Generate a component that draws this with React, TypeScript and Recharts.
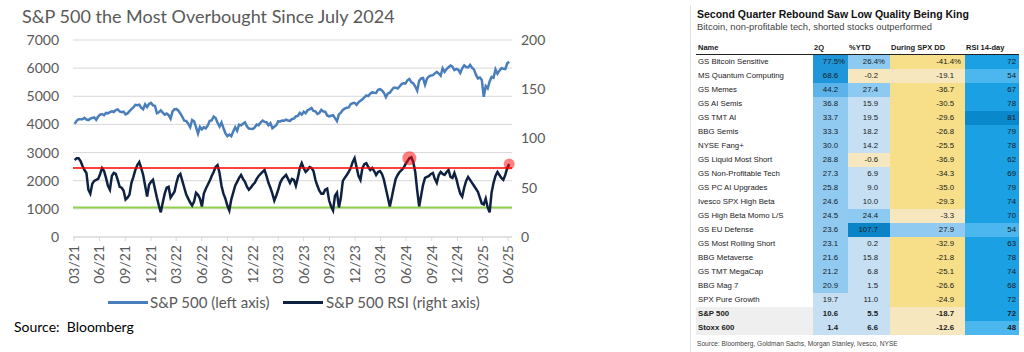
import {
  CartesianGrid,
  Line,
  LineChart,
  ReferenceDot,
  ReferenceLine,
  XAxis,
  YAxis,
} from "recharts";

// weekly closes, first week ending 2021-04-02
const spx2021 = [
  4020, 4129, 4185, 4180, 4181, 4233, 4174, 4156, 4204, 4230, 4247, 4166, 4281,
  4352, 4370, 4327, 4412, 4395, 4437, 4468, 4442, 4509, 4535, 4459, 4433, 4455,
  4357, 4391, 4471, 4545, 4605, 4697, 4682, 4698, 4595, 4538, 4712, 4620, 4726,
  4766,
];
const spx2022 = [
  4677, 4663, 4398, 4432, 4501, 4419, 4349, 4385, 4329, 4204, 4463, 4543, 4546,
  4488, 4392, 4272, 4132, 4123, 4024, 3901, 4158, 4109, 3901, 3675, 3912, 3825,
  3899, 3863, 3962, 4130, 4145, 4280, 4228, 4058, 3924, 4067, 3873, 3693, 3586,
  3639, 3583, 3752, 3901, 3771, 3993, 3965, 4026, 4072, 3934, 3852, 3845, 3840,
];
const spx2023 = [
  3895, 3999, 3973, 4070, 4136, 4090, 4079, 3970, 4045, 3862, 3917, 3971, 4109,
  4105, 4138, 4133, 4169, 4136, 4124, 4192, 4205, 4282, 4299, 4410, 4348, 4450,
  4399, 4505, 4536, 4582, 4478, 4464, 4370, 4406, 4516, 4457, 4450, 4320, 4288,
  4308, 4327, 4224, 4117, 4358, 4415, 4514, 4559, 4595, 4604, 4719, 4755, 4770,
];
const spx2024 = [
  4697, 4784, 4840, 4891, 4959, 5027, 5006, 5089, 5137, 5124, 5117, 5234, 5254,
  5204, 5123, 4967, 5100, 5128, 5223, 5303, 5305, 5278, 5347, 5432, 5465, 5460,
  5567, 5615, 5505, 5459, 5346, 5200, 5554, 5634, 5648, 5408, 5626, 5703, 5738,
  5751, 5815, 5865, 5808, 5729, 5995, 5870, 5969, 6032, 6090, 6051, 5931, 5971,
];
const spx2025 = [
  5942, 5827, 5997, 6101, 6041, 6026, 6115, 6013, 5955, 5770, 5639, 5668, 5581,
  4982, 5363, 5283, 5525, 5687, 5660, 5958, 5803, 5912, 6000, 5977, 5968, 6173,
  6229,
];
const spx = [...spx2021, ...spx2022, ...spx2023, ...spx2024, ...spx2025];

// RSI 14-day, same weeks
const rsi = [
  78, 80, 80, 77, 72, 68, 65, 48, 44, 54,
  57, 58, 59, 64, 70, 67, 60, 52, 48, 62,
  65, 64, 58, 51, 50, 47, 38, 40, 43, 55,
  61, 68, 73, 76, 70, 63, 52, 41, 53, 56,
  58, 49, 40, 32, 25, 35, 44, 50, 51, 40,
  43, 46, 55, 62, 64, 57, 50, 43, 39, 35,
  32, 36, 45, 43, 39, 31, 44, 49, 53, 57,
  62, 66, 71, 73, 65, 52, 44, 39, 32, 27,
  38, 45, 52, 56, 60, 63, 59, 56, 51, 48,
  50, 53, 55, 59, 62, 64, 66, 68, 62, 55,
  50, 44, 37, 42, 48, 55, 59, 61, 63, 59,
  55, 59, 58, 52, 60, 70, 75, 70, 66, 68,
  71, 70, 67, 58, 52, 47, 44, 44, 48, 49,
  37, 31, 27, 42, 45, 30, 40, 57, 60, 63,
  66, 70, 76, 80, 71, 62, 58, 70, 74, 75,
  71, 68, 70, 67, 63, 66, 67, 64, 58, 49,
  40, 31, 40, 50, 59, 63, 66, 68, 70, 74,
  77, 80, 81, 76, 66, 47, 31, 42, 53, 60,
  61, 62, 64, 65, 59, 55, 63, 66, 64, 63,
  66, 68, 61, 60, 65, 59, 51, 44, 41, 50,
  57, 61, 58, 55, 52, 49, 46, 40, 34, 33,
  39, 30, 25, 45, 55, 62, 66, 63, 60, 58,
  63, 70, 74,
];

const tickLabels = [
  "03/21", "06/21", "09/21", "12/21", "03/22", "06/22", "09/22", "12/22",
  "03/23", "06/23", "09/23", "12/23", "03/24", "06/24", "09/24", "12/24",
  "03/25", "06/25",
];
const overboughtWeeks = ["2024-07-12", "2025-07-04"];

// table
const names = [
  "GS Bitcoin Sensitive", "MS Quantum Computing", "GS Memes", "GS AI Semis",
  "GS TMT AI", "BBG Semis", "NYSE Fang+", "GS Liquid Most Short",
  "GS Non-Profitable Tech", "GS PC AI Upgrades", "Ivesco SPX High Beta",
  "GS High Beta Momo L/S", "GS EU Defense", "GS Most Rolling Short",
  "BBG Metaverse", "GS TMT MegaCap", "BBG Mag 7", "SPX Pure Growth",
  "S&P 500", "Stoxx 600",
];
const q2 = [77.5, 68.6, 44.2, 36.8, 33.7, 33.3, 30.0, 28.8, 27.3, 25.8, 24.6, 24.5, 23.6, 23.1, 21.6, 21.2, 20.9, 19.7, 10.6, 1.4];
const ytd = [26.4, -0.2, 27.4, 15.9, 19.5, 18.2, 14.2, -0.6, 6.9, 9.0, 10.0, 24.4, 107.7, 0.2, 15.8, 6.8, 1.5, 11.0, 5.5, 6.6];
const spxDD = [-41.4, -19.1, -36.7, -30.5, -29.6, -26.8, -25.5, -36.9, -34.3, -35.0, -29.3, -3.3, 27.9, -32.9, -21.8, -25.1, -26.6, -24.9, -18.7, -12.6];
const rsi14 = [72, 54, 67, 78, 81, 79, 78, 62, 69, 79, 74, 70, 54, 63, 78, 74, 68, 72, 72, 48];
const benchmarks = ["S&P 500", "Stoxx 600"];

const DAY = 86400000;
const start = Date.UTC(2021, 3, 2);
const data = spx.map((v, i) => ({ t: start + i * 7 * DAY, spx: v, rsi: rsi[i] }));
const tickTimes = tickLabels.map((l) => Date.UTC(2000 + Number(l.slice(3)), Number(l.slice(0, 2)), 0));

const gray = "#595959";
const lato = "Lato, sans-serif";
const arial = "'Liberation Sans', Arial, sans-serif";

function DateTick(props: any) {
  const { x, y, payload } = props;
  const idx = tickTimes.indexOf(payload.value);
  return (
    <text
      x={x}
      y={y}
      transform={`rotate(-90 ${x} ${y})`}
      textAnchor="end"
      dy="0.35em"
      fill={gray}
      fontSize={14}
      fontFamily={lato}
    >
      {tickLabels[idx]}
    </text>
  );
}

function LeftChart() {
  const dots = overboughtWeeks.map((d) => {
    const ts = Date.parse(d);
    let best = 0;
    data.forEach((p, i) => {
      if (Math.abs(p.t - ts) < Math.abs(data[best].t - ts)) best = i;
    });
    return data[best];
  });
  return (
    <div style={{ position: "absolute", left: 0, top: 0 }}>
      <LineChart
        width={600}
        height={290}
        data={data}
        margin={{ top: 40, right: 38, left: 13, bottom: 3 }}
      >
        <CartesianGrid yAxisId="left" vertical={false} stroke="#d9d9d9" />
        <XAxis
          dataKey="t"
          type="number"
          scale="time"
          domain={[Date.UTC(2021, 2, 27), Date.UTC(2025, 6, 14)]}
          ticks={tickTimes}
          interval={0}
          height={50}
          tickSize={4}
          tickMargin={4}
          stroke="#d9d9d9"
          tick={<DateTick />}
        />
        <YAxis
          yAxisId="left"
          domain={[0, 7000]}
          ticks={[0, 1000, 2000, 3000, 4000, 5000, 6000, 7000]}
          width={60}
          axisLine={false}
          tickLine={false}
          tickMargin={8}
          tick={{ fill: gray, fontSize: 14, fontFamily: lato }}
        />
        <YAxis
          yAxisId="right"
          orientation="right"
          domain={[0, 200]}
          ticks={[0, 50, 100, 150, 200]}
          width={50}
          axisLine={false}
          tickLine={false}
          tickMargin={3}
          tick={{ fill: gray, fontSize: 14, fontFamily: lato, textAnchor: "start" }}
        />
        <ReferenceLine yAxisId="right" y={30} stroke="#92d050" strokeWidth={2} />
        <Line
          yAxisId="left"
          dataKey="spx"
          stroke="#4a7ebb"
          strokeWidth={2.5}
          dot={false}
          isAnimationActive={false}
        />
        <Line
          yAxisId="right"
          dataKey="rsi"
          stroke="#0e2141"
          strokeWidth={2.5}
          dot={false}
          isAnimationActive={false}
        />
        <ReferenceLine yAxisId="right" y={70} stroke="#ff0000" strokeWidth={1.5} />
        {dots.map((p, i) => (
          <ReferenceDot
            key={i}
            yAxisId="right"
            x={p.t}
            y={p.rsi}
            r={i === 0 ? 7 : 5.5}
            fill="#ff0000"
            fillOpacity={0.5}
            stroke="none"
          />
        ))}
      </LineChart>
    </div>
  );
}

function q2Color(v: number) {
  if (v >= 60) return "#1e96d9";
  if (v >= 40) return "#5bb3ea";
  if (v >= 20) return "#90caf1";
  return "#c6dff3";
}
function ytdColor(v: number) {
  if (v >= 100) return "#0a84c6";
  if (v >= 20) return "#8ccaf1";
  if (v >= 0) return "#c6dff3";
  return "#f6e7be";
}
function ddColor(v: number) {
  if (v > 0) return "#90caf1";
  if (v > -20) return "#f6e7be";
  return "#f6df88";
}
function rsiColor(v: number) {
  if (v >= 80) return "#0a88cc";
  if (v >= 60) return "#1ba0e3";
  return "#4cb6ee";
}

const cols = [696, 813, 848, 890, 965, 1019];
const ROW0 = 55;
const ROWH = 14;

function Cell(props: {
  left: number;
  right: number;
  top: number;
  bg: string;
  pad: number;
  text: string;
  pct: boolean;
  bold: boolean;
}) {
  return (
    <div
      style={{
        position: "absolute",
        left: props.left,
        top: props.top,
        width: props.right - props.left,
        height: ROWH,
        background: props.bg,
        boxSizing: "border-box",
        paddingRight: props.pad,
        textAlign: "right",
        lineHeight: ROWH + "px",
        fontWeight: props.bold ? 700 : 400,
      }}
    >
      <span style={{ position: "relative" }}>
        {props.text}
        {props.pct && <span style={{ position: "absolute", left: "100%" }}>%</span>}
      </span>
    </div>
  );
}

function Table() {
  const headers = ["Name", "2Q", "%YTD", "During SPX DD", "RSI 14-day"];
  return (
    <div style={{ position: "absolute", left: 0, top: 0, fontFamily: arial, color: "#1a1a1a" }}>
      <div style={{ position: "absolute", left: 690, top: 5, width: 1, height: 347, background: "#e3e3e3" }} />
      <div
        style={{
          position: "absolute",
          left: 697,
          top: 8,
          fontSize: 10.5,
          lineHeight: "13px",
          fontWeight: 700,
          whiteSpace: "nowrap",
          color: "#111",
        }}
      >
        Second Quarter Rebound Saw Low Quality Being King
      </div>
      <div
        style={{
          position: "absolute",
          left: 697,
          top: 21,
          fontSize: 9.4,
          lineHeight: "12px",
          whiteSpace: "nowrap",
          color: "#444",
        }}
      >
        Bitcoin, non-profitable tech, shorted stocks outperformed
      </div>
      {headers.map((h, i) => (
        <div
          key={h}
          style={{
            position: "absolute",
            left: cols[i] + (i === 0 ? 2 : 1),
            top: 41.5,
            fontSize: 7.5,
            lineHeight: "12px",
            fontWeight: 700,
            whiteSpace: "nowrap",
          }}
        >
          {h}
        </div>
      ))}
      <div style={{ position: "absolute", left: 696, top: 53.5, width: 323, height: 1.5, background: "#222" }} />
      <div style={{ position: "absolute", left: 0, top: 0, fontSize: 7.8, whiteSpace: "nowrap" }}>
        {names.map((n, k) => {
          const top = ROW0 + k * ROWH;
          const bold = benchmarks.includes(n);
          const pct = k === 0;
          return (
            <div key={n}>
              <div
                style={{
                  position: "absolute",
                  left: cols[0],
                  top,
                  width: cols[1] - cols[0],
                  height: ROWH,
                  lineHeight: ROWH + "px",
                  paddingLeft: 2,
                  boxSizing: "border-box",
                  background: bold ? "#efefef" : "#fff",
                  fontWeight: bold ? 700 : 400,
                }}
              >
                {n}
              </div>
              <Cell left={cols[1]} right={cols[2]} top={top} bg={q2Color(q2[k])} pad={10} text={q2[k].toFixed(1)} pct={pct} bold={bold} />
              <Cell left={cols[2]} right={cols[3]} top={top} bg={ytdColor(ytd[k])} pad={12} text={ytd[k].toFixed(1)} pct={pct} bold={bold} />
              <Cell left={cols[3]} right={cols[4]} top={top} bg={ddColor(spxDD[k])} pad={11} text={spxDD[k].toFixed(1)} pct={pct} bold={bold} />
              <Cell left={cols[4]} right={cols[5]} top={top} bg={rsiColor(rsi14[k])} pad={3} text={String(rsi14[k])} pct={false} bold={bold} />
            </div>
          );
        })}
      </div>
      <div
        style={{
          position: "absolute",
          left: 697,
          top: 339,
          fontSize: 6.6,
          lineHeight: "10px",
          whiteSpace: "nowrap",
          color: "#444",
        }}
      >
        Source: Bloomberg, Goldman Sachs, Morgan Stanley, Ivesco, NYSE
      </div>
    </div>
  );
}

export default function App() {
  return (
    <div
      style={{
        position: "absolute",
        left: 0,
        top: 0,
        width: 1024,
        height: 352,
        background: "#fff",
        overflow: "hidden",
      }}
    >
      <div
        style={{
          position: "absolute",
          left: 22,
          top: 5,
          fontFamily: lato,
          fontSize: 18,
          lineHeight: "22px",
          color: gray,
          whiteSpace: "nowrap",
        }}
      >
        S&amp;P 500 the Most Overbought Since July 2024
      </div>
      <LeftChart />
      <div style={{ position: "absolute", left: 108, top: 301.3, width: 40, height: 2.5, background: "#4a7ebb" }} />
      <div
        style={{
          position: "absolute",
          left: 150,
          top: 292.5,
          fontFamily: lato,
          fontSize: 15,
          lineHeight: "18px",
          color: gray,
          whiteSpace: "nowrap",
        }}
      >
        S&amp;P 500 (left axis)
      </div>
      <div style={{ position: "absolute", left: 283, top: 301.3, width: 40, height: 2.5, background: "#0e2141" }} />
      <div
        style={{
          position: "absolute",
          left: 326,
          top: 292.5,
          fontFamily: lato,
          fontSize: 15,
          lineHeight: "18px",
          color: gray,
          whiteSpace: "nowrap",
        }}
      >
        S&amp;P 500 RSI (right axis)
      </div>
      <div
        style={{
          position: "absolute",
          left: 14,
          top: 317.8,
          fontFamily: lato,
          fontSize: 14,
          lineHeight: "17px",
          color: "#000",
          whiteSpace: "pre",
        }}
      >
        {"Source:  Bloomberg"}
      </div>
      <Table />
    </div>
  );
}
